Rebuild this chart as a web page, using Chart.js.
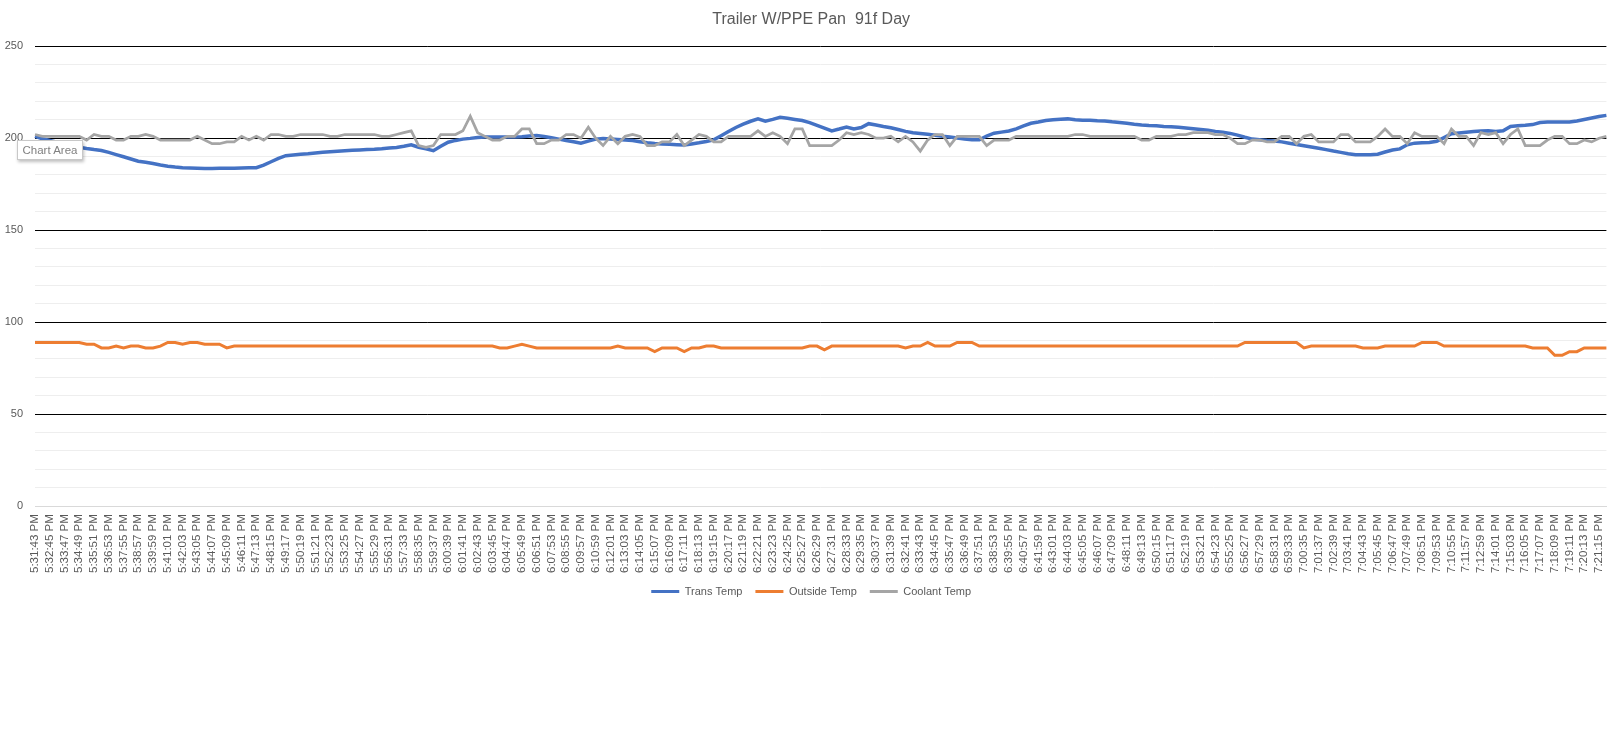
<!DOCTYPE html>
<html>
<head>
<meta charset="utf-8">
<script src="https://cdn.jsdelivr.net/npm/chart.js@4.4.0/dist/chart.umd.min.js"></script>
<style>
  body { margin: 0; background: #fff; }
  #wrap { position: relative; width: 1614px; height: 749px; }
  #tip {
    position: absolute; left: 17px; top: 140px; width: 64px; height: 18px;
    background: #fff; border: 1px solid #c8c8c8; box-shadow: 1px 2px 3px rgba(0,0,0,0.25);
    font: 11.5px "Liberation Sans", Arial, sans-serif; color: #808080;
    line-height: 18px; text-align: center;
  }
</style>
</head>
<body>
<div id="wrap">
  <canvas id="chart" width="1614" height="749"></canvas>
  <div id="tip">Chart Area</div>
</div>
<script>
// shown time labels (one every 62 s)
var tickLabels = [
  '5:31:43 PM','5:32:45 PM','5:33:47 PM','5:34:49 PM','5:35:51 PM','5:36:53 PM','5:37:55 PM','5:38:57 PM','5:39:59 PM','5:41:01 PM',
  '5:42:03 PM','5:43:05 PM','5:44:07 PM','5:45:09 PM','5:46:11 PM','5:47:13 PM','5:48:15 PM','5:49:17 PM','5:50:19 PM','5:51:21 PM',
  '5:52:23 PM','5:53:25 PM','5:54:27 PM','5:55:29 PM','5:56:31 PM','5:57:33 PM','5:58:35 PM','5:59:37 PM','6:00:39 PM','6:01:41 PM',
  '6:02:43 PM','6:03:45 PM','6:04:47 PM','6:05:49 PM','6:06:51 PM','6:07:53 PM','6:08:55 PM','6:09:57 PM','6:10:59 PM','6:12:01 PM',
  '6:13:03 PM','6:14:05 PM','6:15:07 PM','6:16:09 PM','6:17:11 PM','6:18:13 PM','6:19:15 PM','6:20:17 PM','6:21:19 PM','6:22:21 PM',
  '6:23:23 PM','6:24:25 PM','6:25:27 PM','6:26:29 PM','6:27:31 PM','6:28:33 PM','6:29:35 PM','6:30:37 PM','6:31:39 PM','6:32:41 PM',
  '6:33:43 PM','6:34:45 PM','6:35:47 PM','6:36:49 PM','6:37:51 PM','6:38:53 PM','6:39:55 PM','6:40:57 PM','6:41:59 PM','6:43:01 PM',
  '6:44:03 PM','6:45:05 PM','6:46:07 PM','6:47:09 PM','6:48:11 PM','6:49:13 PM','6:50:15 PM','6:51:17 PM','6:52:19 PM','6:53:21 PM',
  '6:54:23 PM','6:55:25 PM','6:56:27 PM','6:57:29 PM','6:58:31 PM','6:59:33 PM','7:00:35 PM','7:01:37 PM','7:02:39 PM','7:03:41 PM',
  '7:04:43 PM','7:05:45 PM','7:06:47 PM','7:07:49 PM','7:08:51 PM','7:09:53 PM','7:10:55 PM','7:11:57 PM','7:12:59 PM','7:14:01 PM',
  '7:15:03 PM','7:16:05 PM','7:17:07 PM','7:18:09 PM','7:19:11 PM','7:20:13 PM','7:21:15 PM'
];

// readings, two per shown label
var transTemp = [
  201,199.7,198.8,197.8,196.9,196,195.1,194.4,193.8,193.3,
  192.3,191.1,189.9,188.7,187.5,186.9,186.2,185.4,184.8,184.3,
  183.9,183.8,183.7,183.5,183.5,183.6,183.6,183.7,183.8,183.9,
  184,185.4,187.2,189,190.5,190.9,191.3,191.6,192,192.3,
  192.6,192.9,193.2,193.4,193.6,193.8,194,194.3,194.7,195,
  195.6,196.4,195.1,194.2,193.2,195.6,197.8,198.8,199.5,199.9,
  200.4,200.6,200.6,200.6,200.6,200.6,200.8,201.2,201.5,200.9,
  200.2,199.5,198.8,198.1,197.3,198.4,199.5,199.8,199.6,199.3,
  199,198.7,198.1,197.5,197.1,196.9,196.7,196.5,196.3,196.9,
  197.5,198.2,199.1,201.3,203.6,205.8,207.6,209.2,210.5,209.2,
  210.2,211.4,210.8,210.2,209.6,208.5,207,205.5,204,205,
  206.1,205,205.8,207.9,207.2,206.4,205.7,204.7,203.7,203,
  202.6,202.1,201.6,201.1,200.7,200.1,199.6,199.1,199.1,201.2,
  202.7,203.3,203.9,205.1,206.7,208.1,208.8,209.6,210,210.3,
  210.5,210,209.8,209.7,209.5,209.4,208.9,208.5,208.1,207.6,
  207.2,206.9,206.7,206.4,206.2,205.9,205.5,205.1,204.7,204.3,
  203.7,203.2,202.6,201.7,200.5,199.5,199.2,198.8,198.5,198,
  197.3,196.6,195.9,195.2,194.5,193.8,193,192.3,191.6,191,
  191,191,191.3,192.5,193.6,194.2,196.4,197.3,197.5,197.7,
  198.3,200.3,202.4,202.8,203.2,203.6,203.9,204.1,203.6,204,
  206.4,206.7,207,207.4,208.5,208.8,208.8,208.8,208.8,209.4,
  210.2,211,211.8,212.4
];

var outsideTemp = [
  89,89,89,89,89,89,89,88,88,86,
  86,87,86,87,87,86,86,87,89,89,
  88,89,89,88,88,88,86,87,87,87,
  87,87,87,87,87,87,87,87,87,87,
  87,87,87,87,87,87,87,87,87,87,
  87,87,87,87,87,87,87,87,87,87,
  87,87,87,86,86,87,88,87,86,86,
  86,86,86,86,86,86,86,86,86,87,
  86,86,86,86,84,86,86,86,84,86,
  86,87,87,86,86,86,86,86,86,86,
  86,86,86,86,86,87,87,85,87,87,
  87,87,87,87,87,87,87,87,86,87,
  87,89,87,87,87,89,89,89,87,87,
  87,87,87,87,87,87,87,87,87,87,
  87,87,87,87,87,87,87,87,87,87,
  87,87,87,87,87,87,87,87,87,87,
  87,87,87,87,89,89,89,89,89,89,
  89,89,86,87,87,87,87,87,87,87,
  86,86,86,87,87,87,87,87,89,89,
  89,87,87,87,87,87,87,87,87,87,
  87,87,87,86,86,86,82,82,84,84,
  86,86,86,86
];

var coolantTemp = [
  202,201,201,201,201,201,201,199,202,201,
  201,199,199,201,201,202,201,199,199,199,
  199,199,201,199,197,197,198,198,201,199,
  201,199,202,202,201,201,202,202,202,202,
  201,201,202,202,202,202,202,201,201,202,
  203,204,196,195,196,202,202,202,204,212,
  203,201,199,199,201,201,205,205,197,197,
  199,199,202,202,200,206,200,196,201,197,
  201,202,201,196,196,198,198,202,196,199,
  202,201,198,198,201,201,201,201,204,201,
  203,201,197,205,205,196,196,196,196,199,
  203,202,203,202,200,200,201,198,201,198,
  193,199,202,202,196,201,201,201,201,196,
  199,199,199,201,201,201,201,201,201,201,
  201,202,202,201,201,201,201,201,201,201,
  199,199,201,201,201,202,202,203,203,203,
  202,202,200,197,197,199,199,198,198,201,
  201,197,201,202,198,198,198,202,202,198,
  198,198,201,205,201,201,197,203,201,201,
  201,197,205,201,201,196,203,202,203,197,
  202,205,196,196,196,199,201,201,197,197,
  199,198,200,201
];

// category list: a label on every second reading
var categories = [];
for (var i = 0; i < transTemp.length; i++) {
  categories.push(i % 2 === 0 && tickLabels[i / 2] ? tickLabels[i / 2] : '');
}

var font = '"Liberation Sans", Arial, sans-serif';
var textColor = '#595959';
var baseLabels = Chart.defaults.plugins.legend.labels.generateLabels;

// nudge title and legend sideways to where Excel put them
var nudge = {
  id: 'nudge',
  afterLayout: function (chart) {
    var t = chart.titleBlock, l = chart.legend;
    if (t) { t.left += 8; t.right += 8; }
    if (l) { l.left += 8; l.right += 8; }
  }
};

new Chart(document.getElementById('chart').getContext('2d'), {
  type: 'line',
  data: {
    labels: categories,
    datasets: [
      { label: 'Trans Temp', data: transTemp, borderColor: '#4472C4', backgroundColor: '#4472C4', borderWidth: 3.5, order: 2 },
      { label: 'Outside Temp', data: outsideTemp, borderColor: '#ED7D31', backgroundColor: '#ED7D31', borderWidth: 3, order: 1 },
      { label: 'Coolant Temp', data: coolantTemp, borderColor: '#A5A5A5', backgroundColor: '#A5A5A5', borderWidth: 2.75, order: 0 }
    ]
  },
  plugins: [nudge],
  options: {
    responsive: false,
    animation: false,
    elements: { point: { radius: 0 }, line: { tension: 0 } },
    layout: { padding: { left: 0, right: 7.6, top: 0, bottom: 142 } },
    plugins: {
      tooltip: { enabled: false },
      title: {
        display: true,
        text: 'Trailer W/PPE Pan  91f Day',
        color: textColor,
        font: { family: font, size: 16, weight: 'normal' },
        padding: { top: 10, bottom: 17 }
      },
      legend: {
        position: 'bottom',
        reverse: true,
        labels: {
          boxWidth: 28, boxHeight: 3, padding: 13,
          color: textColor,
          font: { family: font, size: 11 },
          generateLabels: function (chart) {
            return baseLabels(chart).map(function (l) { l.lineWidth = 0; return l; });
          }
        }
      }
    },
    scales: {
      x: {
        offset: false,
        grid: { display: false },
        border: { color: '#d9d9d9' },
        afterFit: function (scale) {
          scale.paddingLeft = 0;
          scale.paddingRight = 0;
        },
        ticks: {
          autoSkip: false, minRotation: 90, maxRotation: 90, padding: 0,
          color: textColor, font: { family: font, size: 11.5 }
        }
      },
      y: {
        min: 0, max: 250,
        afterFit: function (scale) { scale.width = 35; },
        border: { display: false },
        grid: {
          drawTicks: false,
          color: function (ctx) {
            var v = ctx.tick.value;
            if (v === 0) return '#d9d9d9';
            return v % 50 === 0 ? '#000000' : '#eeeeee';
          }
        },
        ticks: {
          stepSize: 10, padding: 12,
          color: textColor, font: { family: font, size: 11 },
          callback: function (v) { return v % 50 === 0 ? v : ''; }
        }
      }
    }
  }
});
</script>
</body>
</html>
